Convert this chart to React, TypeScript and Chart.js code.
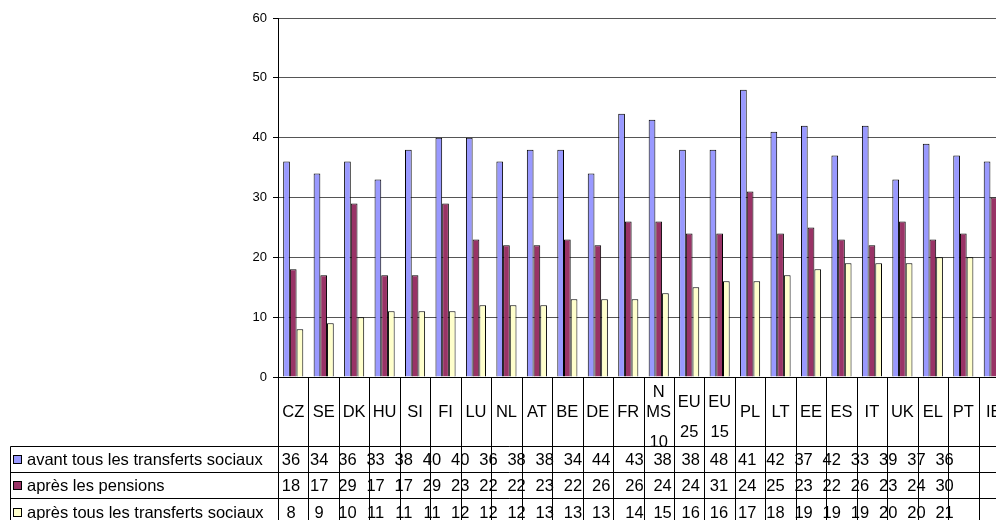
import React, { useEffect, useRef } from "react";
import { Chart, registerables } from "chart.js";

Chart.register(...registerables);

const categories = ["CZ", "SE", "DK", "HU", "SI", "FI", "LU", "NL", "AT", "BE", "DE", "FR", "NMS10", "EU25", "EU15", "PL", "LT", "EE", "ES", "IT", "UK", "EL", "PT", "IE"];
// how the category names are wrapped in the table header
const wrappedLabels: Record<string, string[]> = {
  NMS10: ["N", "MS", "10"],
  EU25: ["EU", "25"],
  EU15: ["EU", "15"],
};

const seriesNames = ["avant tous les transferts sociaux", "après les pensions", "après tous les transferts sociaux"];
const avantTransferts = [36, 34, 36, 33, 38, 40, 40, 36, 38, 38, 34, 44, 43, 38, 38, 48, 41, 42, 37, 42, 33, 39, 37, 36];
const apresPensions = [18, 17, 29, 17, 17, 29, 23, 22, 22, 23, 22, 26, 26, 24, 24, 31, 24, 25, 23, 22, 26, 23, 24, 30];
const apresTransferts = [8, 9, 10, 11, 11, 11, 12, 12, 12, 13, 13, 13, 14, 15, 16, 16, 17, 18, 19, 19, 19, 20, 20, 21];
const seriesColors = ["#9999FF", "#993366", "#FFFFCC"];

const yMin = 0;
const yMax = 60;
const yStep = 10;

const FONT = "Arial, 'Liberation Sans', sans-serif";
const CANVAS_W = 1030;
const CANVAS_H = 520;

const tablePlugin = {
  id: "dataTable",
  afterDraw(chart: any) {
    const { ctx, chartArea, scales } = chart;
    const x = scales.x;
    const n = categories.length;
    const left = chartArea.left;
    const right = chartArea.right;
    const bottom = chartArea.bottom;
    const colW = (right - left) / n;
    const rowLines = [446.5, 472.5, 498.5];
    const rowCenters = [460, 486, 513];
    const allData = [avantTransferts, apresPensions, apresTransferts];

    ctx.save();
    ctx.strokeStyle = "#000";
    ctx.lineWidth = 1;
    // vertical column lines
    for (let i = 0; i <= n; i++) {
      const cx = Math.round(left + i * colW) + 0.5;
      ctx.beginPath();
      ctx.moveTo(cx, bottom);
      ctx.lineTo(cx, CANVAS_H);
      ctx.stroke();
    }
    // horizontal row lines
    rowLines.forEach((ry) => {
      ctx.beginPath();
      ctx.moveTo(10.5, ry);
      ctx.lineTo(right, ry);
      ctx.stroke();
    });
    // left border of legend column
    ctx.beginPath();
    ctx.moveTo(10.5, rowLines[0]);
    ctx.lineTo(10.5, CANVAS_H);
    ctx.stroke();

    // category labels
    ctx.fillStyle = "#000";
    ctx.font = `16.5px ${FONT}`;
    ctx.textAlign = "center";
    ctx.textBaseline = "middle";
    categories.forEach((c, i) => {
      const cx = x.getPixelForValue(i);
      const lines = wrappedLabels[c];
      if (!lines) {
        ctx.fillText(c, cx, 412);
      } else if (lines.length === 2) {
        ctx.fillText(lines[0], cx, 402);
        ctx.fillText(lines[1], cx, 432);
      } else {
        ctx.fillText(lines[0], cx, 392);
        ctx.fillText(lines[1], cx, 412);
        ctx.fillText(lines[2], cx, 442);
      }
    });

    // legend keys and names
    seriesNames.forEach((name, r) => {
      const cy = rowCenters[r];
      ctx.fillStyle = seriesColors[r];
      ctx.fillRect(13.5, cy - 4.5, 8, 8);
      ctx.strokeStyle = "#000";
      ctx.strokeRect(13.5, cy - 4.5, 8, 8);
      ctx.fillStyle = "#000";
      ctx.textAlign = "left";
      ctx.fillText(name, 27, cy);
    });

    // values (laid out with the table's own tighter spacing)
    ctx.textAlign = "center";
    allData.forEach((vals, r) => {
      vals.forEach((v, i) => {
        const vx = left + 13 + i * 28.2 + (i >= 12 ? 5 : 0);
        ctx.fillText(String(v), vx, rowCenters[r]);
      });
    });
    ctx.restore();
  },
};

export default function App() {
  const ref = useRef<HTMLCanvasElement>(null);

  useEffect(() => {
    if (!ref.current) return;
    const chart = new Chart(ref.current, {
      type: "bar",
      data: {
        labels: categories,
        datasets: [avantTransferts, apresPensions, apresTransferts].map((d, i) => ({
          label: seriesNames[i],
          data: d,
          backgroundColor: seriesColors[i],
          borderColor: "#000",
          borderWidth: 1,
          categoryPercentage: 0.66,
          barPercentage: 1,
        })),
      },
      options: {
        responsive: false,
        animation: false,
        devicePixelRatio: 1,
        layout: { padding: { top: 18, bottom: 143, left: 0, right: 21 } },
        plugins: { legend: { display: false }, tooltip: { enabled: false } },
        scales: {
          x: {
            grid: { display: false },
            ticks: { display: false },
            border: { display: true, color: "#000", width: 1 },
            afterFit: (s: any) => {
              s.height = 0;
            },
          },
          y: {
            min: yMin,
            max: yMax,
            ticks: {
              stepSize: yStep,
              color: "#000",
              font: { family: FONT, size: 13 },
              padding: 6,
            },
            grid: { color: "#555", tickLength: 5, drawTicks: true, tickColor: "#000" },
            border: { display: true, color: "#000", width: 1 },
            afterFit: (s: any) => {
              s.width = 278;
            },
          },
        },
      },
      plugins: [tablePlugin],
    });
    return () => chart.destroy();
  }, []);

  return (
    <div style={{ position: "absolute", left: 0, top: 0, width: 996, height: 520, overflow: "hidden", background: "#fff" }}>
      <canvas ref={ref} width={CANVAS_W} height={CANVAS_H} style={{ display: "block" }} />
    </div>
  );
}
